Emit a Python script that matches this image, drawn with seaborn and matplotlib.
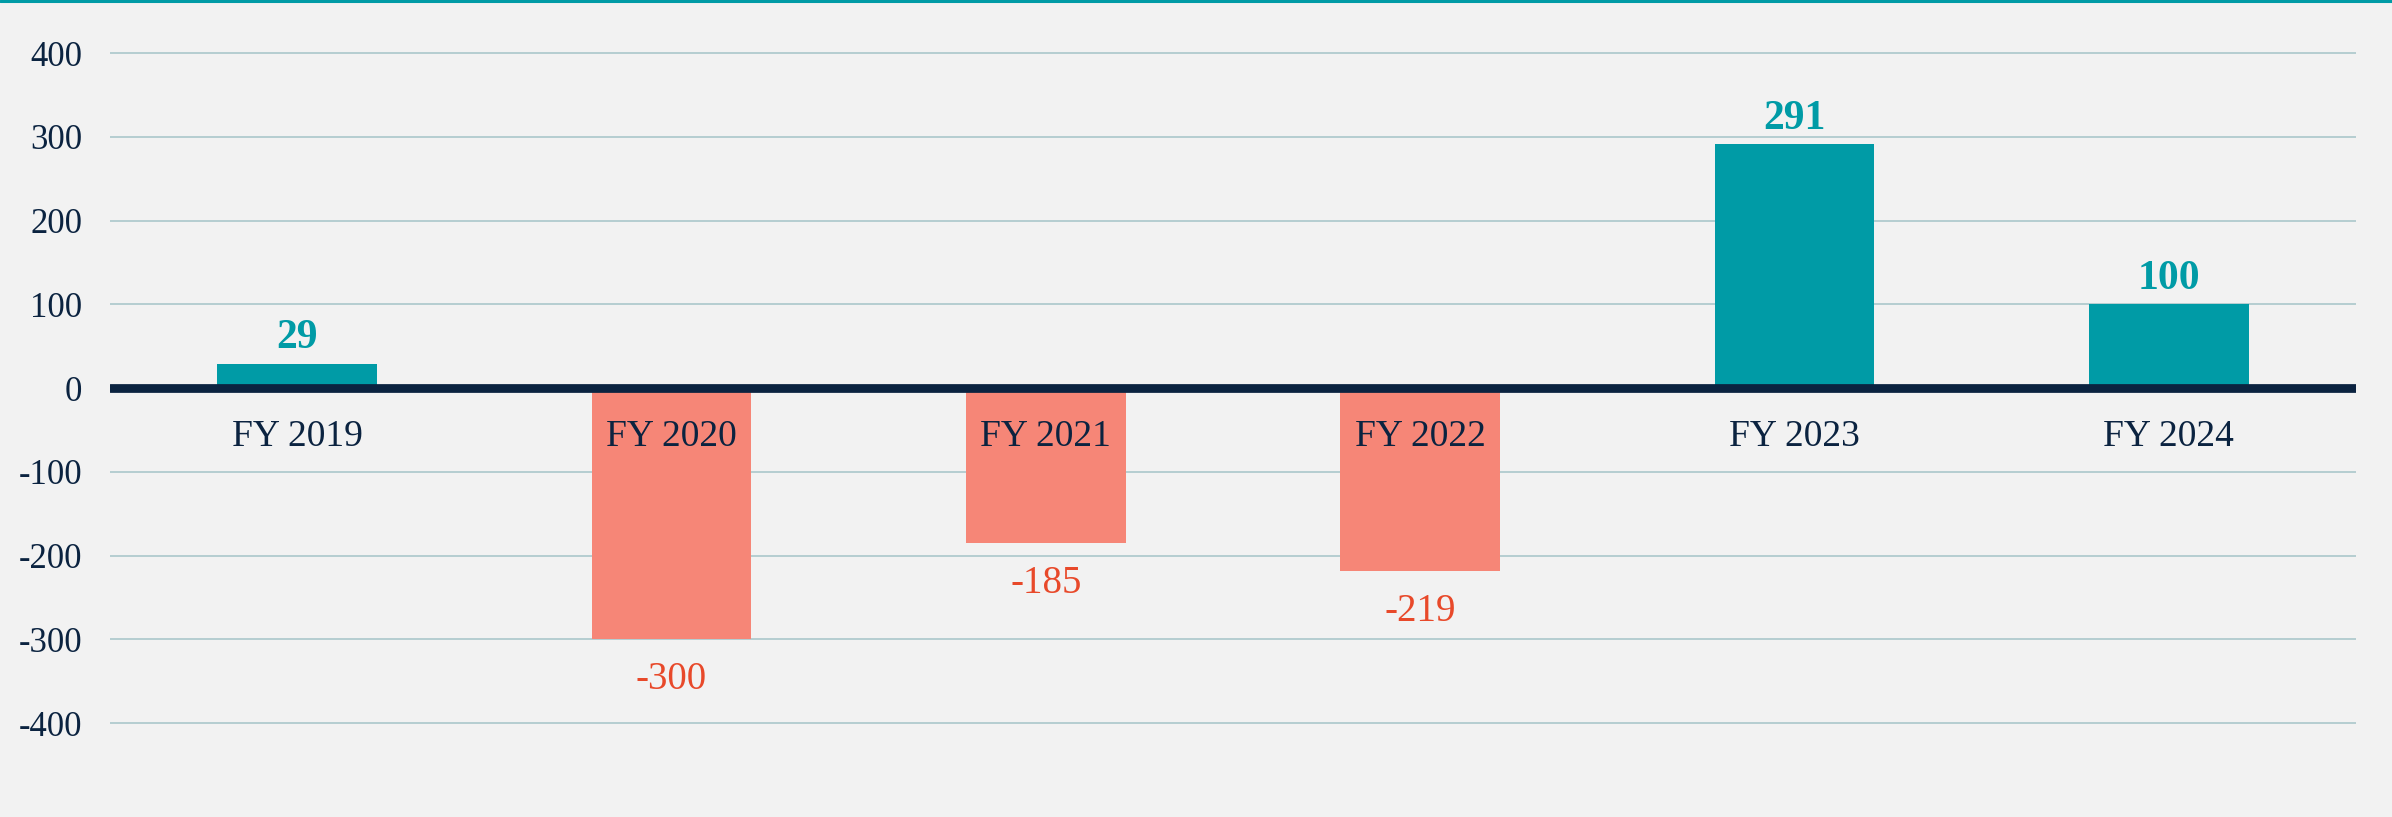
import matplotlib
matplotlib.use("Agg")
import matplotlib.pyplot as plt
from matplotlib.lines import Line2D
import seaborn as sns
import pandas as pd

# Annual results (values shown on each bar)
years = ["FY 2019", "FY 2020", "FY 2021", "FY 2022", "FY 2023", "FY 2024"]
values = [29, -300, -185, -219, 291, 100]
y_ticks = [-400, -300, -200, -100, 0, 100, 200, 300, 400]

TEAL = "#009BA6"
SALMON = "#F68677"
RED_TXT = "#E8492A"
NAVY = "#0B2340"
GRID = "#B5CDD1"
BG = "#F2F2F2"

sns.set_theme(style="white")
plt.rcParams["font.family"] = ["Liberation Serif", "DejaVu Serif"]

W, H, DPI = 2392, 817, 100
fig = plt.figure(figsize=(W / DPI, H / DPI), dpi=DPI, facecolor=BG)
ax = fig.add_axes([110 / W, 0, 2246 / W, 1])
ax.set_facecolor(BG)

df = pd.DataFrame({"year": years, "value": values})
df["sign"] = ["pos" if v >= 0 else "neg" for v in values]

sns.barplot(data=df, x="year", y="value", hue="sign",
            palette={"pos": TEAL, "neg": SALMON}, width=0.427,
            dodge=False, legend=False, saturation=1, linewidth=0,
            ax=ax, zorder=3)

ax.set_xlim(-0.5, len(years) - 0.5)
ax.set_ylim(-512.2, 463.3)

# horizontal grid (zero drawn separately as a heavy baseline)
for t in y_ticks:
    if t != 0:
        ax.axhline(t, color=GRID, lw=1.4, zorder=1)
ax.axhline(0, color=NAVY, lw=6.3, zorder=4)

ax.set_yticks(y_ticks)
ax.set_yticklabels([str(t) for t in y_ticks], fontsize=25, color=NAVY)
ax.tick_params(axis="y", length=0, pad=20)
ax.set_xticks([])
ax.set_xlabel("")
ax.set_ylabel("")
for s in ax.spines.values():
    s.set_visible(False)

# category names sit just under the baseline, over the bars
for i, name in enumerate(years):
    ax.annotate(name, (i, 0), xytext=(0, -35), textcoords="offset points",
                ha="center", va="center", fontsize=27, color=NAVY, zorder=6)

# value labels
for i, v in enumerate(values):
    if v >= 0:
        ax.annotate(str(v), (i, v), xytext=(0, 18.5), textcoords="offset points",
                    ha="center", va="center", fontsize=30, fontweight="bold",
                    color=TEAL, zorder=6)
    else:
        ax.annotate(str(v), (i, v), xytext=(0, -29), textcoords="offset points",
                    ha="center", va="center", fontsize=28, color=RED_TXT, zorder=6)

# teal rule across the top edge
fig.add_artist(Line2D([0, 1], [1 - 1 / H, 1 - 1 / H], transform=fig.transFigure,
                      color=TEAL, lw=2.2))

fig.savefig("out.png", dpi=DPI, facecolor=BG)
